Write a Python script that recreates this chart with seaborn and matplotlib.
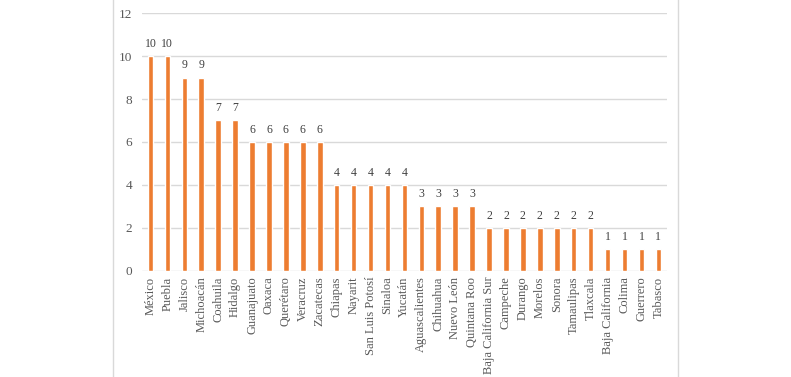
import pandas as pd
import numpy as np
import matplotlib.pyplot as plt
import seaborn as sns
from matplotlib.patches import Rectangle

estados = ['México', 'Puebla', 'Jalisco', 'Michoacán', 'Coahuila', 'Hidalgo',
           'Guanajuato', 'Oaxaca', 'Querétaro', 'Veracruz', 'Zacatecas',
           'Chiapas', 'Nayarit', 'San Luis Potosí', 'Sinaloa', 'Yucatán',
           'Aguascalientes', 'Chihuahua', 'Nuevo León', 'Quintana Roo',
           'Baja California Sur', 'Campeche', 'Durango', 'Morelos', 'Sonora',
           'Tamaulipas', 'Tlaxcala', 'Baja California', 'Colima', 'Guerrero',
           'Tabasco']
valores = [10, 10, 9, 9, 7, 7, 6, 6, 6, 6, 6, 4, 4, 4, 4, 4, 3, 3, 3, 3,
           2, 2, 2, 2, 2, 2, 2, 1, 1, 1, 1]
y_ticks = [0, 2, 4, 6, 8, 10, 12]

df = pd.DataFrame({'estado': estados, 'valor': valores})

sns.set_theme(style="white")
plt.rcParams['font.family'] = ['Liberation Serif', 'DejaVu Serif']

fig = plt.figure(figsize=(7.91, 3.77), dpi=100)
ax = fig.add_axes([0.1795, 0.2812, 0.6635, 0.6843])

# light frame around the chart area, like the exported chart box
fig.patches.append(Rectangle((112.5 / 791, -0.01), (678 - 112.5) / 791, 1.02,
                             transform=fig.transFigure, fill=False,
                             edgecolor='#d9d9d9', linewidth=1))

sns.barplot(data=df, x='estado', y='valor', ax=ax, color='#ED7D31',
            width=0.33, saturation=1)

ax.set_ylim(0, 12)
ax.set_yticks(y_ticks)
ax.set_xlim(-0.5, len(estados) - 0.5)
ax.yaxis.grid(True, color='#d9d9d9', linewidth=1)
ax.set_axisbelow(True)
sns.despine(ax=ax, left=True, bottom=True)
ax.set_xlabel('')
ax.set_ylabel('')
ax.tick_params(axis='both', length=0, colors='#595959')
ax.tick_params(axis='y', pad=7, labelsize=9.5)
ax.tick_params(axis='x', pad=4, labelsize=9)
plt.setp(ax.get_xticklabels(), rotation=90)

# value labels above each bar
for p in ax.patches:
    h = p.get_height()
    ax.text(p.get_x() + p.get_width() / 2, h + 0.28, int(h),
            ha='center', va='bottom', fontsize=8.5, color='#404040')

fig.savefig('out.png', dpi=100)
